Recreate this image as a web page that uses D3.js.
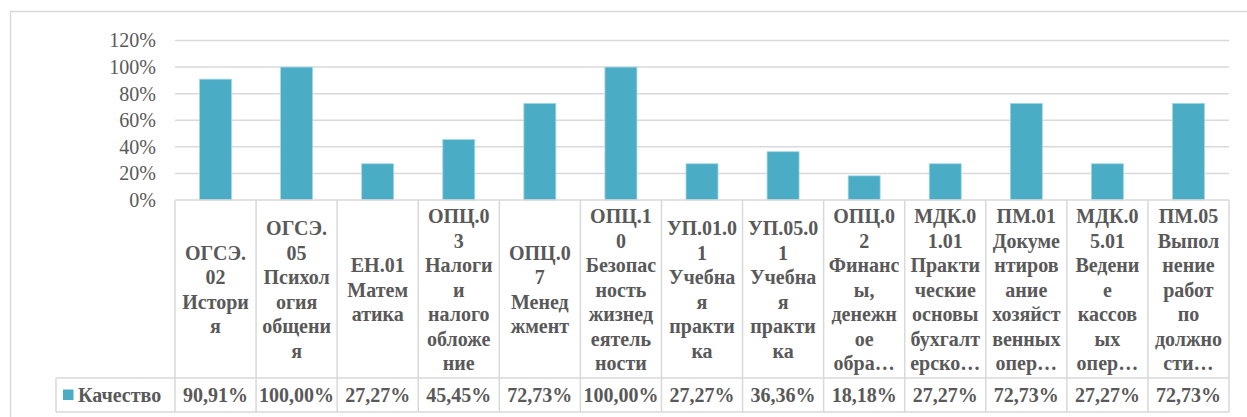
<!DOCTYPE html>
<html>
<head>
<meta charset="utf-8">
<script src="https://cdn.jsdelivr.net/npm/d3@7"></script>
</head>
<body style="margin:0">
<div id="chart"></div>
<script>
// Chart data
const categories = ['ОГСЭ.02', 'ОГСЭ.05', 'ЕН.01', 'ОПЦ.03', 'ОПЦ.07', 'ОПЦ.10', 'УП.01.01',
  'УП.05.01', 'ОПЦ.02', 'МДК.01.01', 'ПМ.01', 'МДК.05.01', 'ПМ.05']
const quality = [0.9091, 1.0, 0.2727, 0.4545, 0.7273, 1.0, 0.2727, 0.3636, 0.1818, 0.2727, 0.7273, 0.2727, 0.7273]
const qualityLabels = ['90,91%', '100,00%', '27,27%', '45,45%', '72,73%', '100,00%', '27,27%',
  '36,36%', '18,18%', '27,27%', '72,73%', '27,27%', '72,73%']
// wrapped category labels as shown in the table header
const labelLines = [
  ['ОГСЭ.', '02', 'Истори', 'я'],
  ['ОГСЭ.', '05', 'Психол', 'огия', 'общени', 'я'],
  ['ЕН.01', 'Матем', 'атика'],
  ['ОПЦ.0', '3', 'Налоги', 'и', 'налого', 'обложе', 'ние'],
  ['ОПЦ.0', '7', 'Менед', 'жмент'],
  ['ОПЦ.1', '0', 'Безопас', 'ность', 'жизнед', 'еятель', 'ности'],
  ['УП.01.0', '1', 'Учебна', 'я', 'практи', 'ка'],
  ['УП.05.0', '1', 'Учебна', 'я', 'практи', 'ка'],
  ['ОПЦ.0', '2', 'Финанс', 'ы,', 'денежн', 'ое', 'обра…'],
  ['МДК.0', '1.01', 'Практи', 'ческие', 'основы', 'бухгалт', 'ерско…'],
  ['ПМ.01', 'Докуме', 'нтиров', 'ание', 'хозяйст', 'венных', 'опер…'],
  ['МДК.0', '5.01', 'Ведени', 'е', 'кассов', 'ых', 'опер…'],
  ['ПМ.05', 'Выпол', 'нение', 'работ', 'по', 'должно', 'сти…']
]
const seriesName = 'Качество'
const yTicks = [0, 0.2, 0.4, 0.6, 0.8, 1.0, 1.2]

const width = 1247
const height = 417
const gridColor = '#d9d9d9'
const barColor = '#4bacc6'
const textColor = '#595959'
const fontName = 'Liberation Serif'

const svg = d3.select('#chart')
  .append('svg')
  .attr('width', width)
  .attr('height', height)
  .attr('font-family', fontName)

// chart area border (runs off the right and bottom of the picture)
svg.append('rect')
  .attr('x', 10.5)
  .attr('y', 11.5)
  .attr('width', width)
  .attr('height', height)
  .attr('fill', 'none')
  .attr('stroke', gridColor)
  .attr('stroke-width', 1.5)

// scales
const xScale = d3.scaleBand()
  .domain(categories)
  .range([175, 1229])

const yScale = d3.scaleLinear()
  .domain([0, 1.2])
  .range([200, 40.5])

// gridlines
svg.append('g')
  .selectAll('line')
  .data(yTicks.filter(d => d > 0))
  .enter()
  .append('line')
  .attr('x1', 175)
  .attr('x2', 1229)
  .attr('y1', d => yScale(d))
  .attr('y2', d => yScale(d))
  .attr('stroke', gridColor)
  .attr('stroke-width', 1.5)

// y axis labels
const yAxis = d3.axisLeft(yScale)
  .tickValues(yTicks)
  .tickFormat(d => Math.round(d * 100) + '%')
  .tickSize(0)
  .tickPadding(19)

svg.append('g')
  .attr('transform', 'translate(175, 0)')
  .call(yAxis)
  .attr('font-family', fontName)
  .attr('font-size', 20)
  .call(g => g.select('.domain').remove())
  .selectAll('text')
  .attr('font-family', fontName)
  .attr('font-size', 20)
  .attr('fill', textColor)

// bars
const bw = xScale.bandwidth()
const barW = bw * 0.395
svg.append('g')
  .selectAll('rect')
  .data(categories)
  .enter()
  .append('rect')
  .attr('x', d => xScale(d) + (bw - barW) / 2)
  .attr('y', (d, i) => yScale(quality[i]))
  .attr('width', barW)
  .attr('height', (d, i) => yScale(0) - yScale(quality[i]))
  .attr('fill', barColor)
  .attr('stroke', '#a8d8e5')
  .attr('stroke-width', 0.8)

// data table
const tableTop = 200
const rowSplit = 378
const tableBottom = 412
const legendLeft = 56
const table = svg.append('g')
  .attr('stroke', gridColor)
  .attr('stroke-width', 1.5)

table.append('line').attr('x1', 175).attr('x2', 1229).attr('y1', tableTop).attr('y2', tableTop)
table.append('line').attr('x1', legendLeft).attr('x2', 1229).attr('y1', rowSplit).attr('y2', rowSplit)
table.append('line').attr('x1', legendLeft).attr('x2', 1229).attr('y1', tableBottom).attr('y2', tableBottom)
table.append('line').attr('x1', legendLeft).attr('x2', legendLeft).attr('y1', rowSplit).attr('y2', tableBottom)

table.selectAll('.vline')
  .data(categories.concat(['end']))
  .enter()
  .append('line')
  .attr('class', 'vline')
  .attr('x1', d => d === 'end' ? 1229 : xScale(d))
  .attr('x2', d => d === 'end' ? 1229 : xScale(d))
  .attr('y1', tableTop)
  .attr('y2', tableBottom)

// header labels
const lineH = 24.5
const headCenter = 290
const heads = svg.append('g')
  .selectAll('text')
  .data(categories)
  .enter()
  .append('text')
  .attr('text-anchor', 'middle')
  .attr('font-family', fontName)
  .attr('font-size', 20)
  .attr('font-weight', 'bold')
  .attr('fill', textColor)

heads.each(function (d, i) {
  const lines = labelLines[i]
  const n = lines.length
  d3.select(this).selectAll('tspan')
    .data(lines)
    .enter()
    .append('tspan')
    .attr('x', xScale(d) + bw / 2)
    .attr('y', (l, j) => headCenter + (j - (n - 1) / 2) * lineH + 6.6)
    .text(l => l)
})

// value row
svg.append('g')
  .selectAll('text')
  .data(categories)
  .enter()
  .append('text')
  .attr('x', d => xScale(d) + bw / 2)
  .attr('y', 401.5)
  .attr('text-anchor', 'middle')
  .style('font-family', d => `'${fontName}', monospace`)
  .attr('font-size', 20)
  .attr('font-weight', 'bold')
  .attr('fill', textColor)
  .text((d, i) => qualityLabels[i])

// legend key
svg.append('rect')
  .attr('x', 63)
  .attr('y', 389.5)
  .attr('width', 10.5)
  .attr('height', 10.5)
  .attr('fill', barColor)

svg.append('text')
  .attr('x', 78)
  .attr('y', 401.5)
  .attr('font-family', fontName)
  .attr('font-size', 20)
  .attr('font-weight', 'bold')
  .attr('fill', textColor)
  .text(seriesName)
</script>
</body>
</html>
